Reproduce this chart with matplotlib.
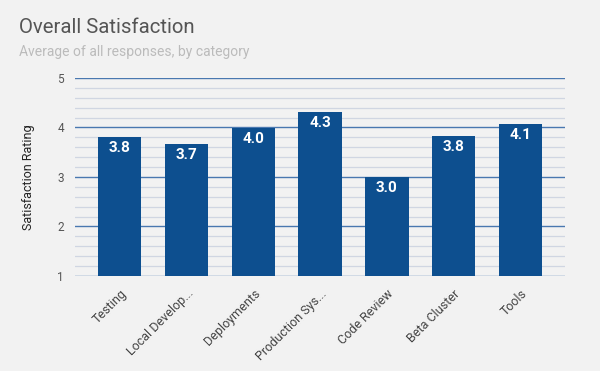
import matplotlib
matplotlib.use('Agg')
import matplotlib.pyplot as plt
from matplotlib.ticker import MultipleLocator

categories = ['Testing', 'Local Develop...', 'Deployments', 'Production Sys...',
              'Code Review', 'Beta Cluster', 'Tools']
ratings = [3.81, 3.66, 3.99, 4.32, 2.99, 3.82, 4.06]

bg = '#f2f2f2'
bar_color = '#0d4f8f'

plt.rcParams['font.family'] = ['Roboto', 'DejaVu Sans']

fig = plt.figure(figsize=(6, 3.71), dpi=100, facecolor=bg)
ax = fig.add_axes([0.125, 0.256, 0.817, 0.534], facecolor=bg)

x = range(len(categories))
bars = ax.bar(x, [r - 1 for r in ratings], bottom=1, width=0.65, color=bar_color, zorder=3)
for xi, r in zip(x, ratings):
    ax.text(xi, r - 0.08, '%.1f' % r, ha='center', va='top', color='white',
            fontsize=11, fontweight='bold', zorder=4)

ax.set_ylim(1, 5)
ax.set_xlim(-0.67, len(categories) - 0.33)
ax.yaxis.set_major_locator(MultipleLocator(1))
ax.yaxis.set_minor_locator(MultipleLocator(0.2))
ax.grid(which='major', axis='y', color='#4a78b0', lw=1, zorder=1)
ax.grid(which='minor', axis='y', color='#d0d6e2', lw=0.9, zorder=0)
ax.tick_params(which='both', length=0)
ax.tick_params(axis='y', labelsize=8.5, labelcolor='#555555', pad=8)
ax.set_xticks(list(x))
ax.set_xticklabels(categories, rotation=45, ha='right', rotation_mode='anchor',
                   fontsize=9, color='#444444')
ax.tick_params(axis='x', pad=8)
for s in ax.spines.values():
    s.set_visible(False)

ax.set_ylabel('Satisfaction Rating', fontsize=9, color='#222222', labelpad=16)

fig.text(0.032, 0.927, 'Overall Satisfaction', fontsize=14.7, color='#555555', va='center')
fig.text(0.032, 0.86, 'Average of all responses, by category', fontsize=10,
         color='#bbbbbb', va='center')

fig.savefig('out.png', dpi=100, facecolor=bg)
